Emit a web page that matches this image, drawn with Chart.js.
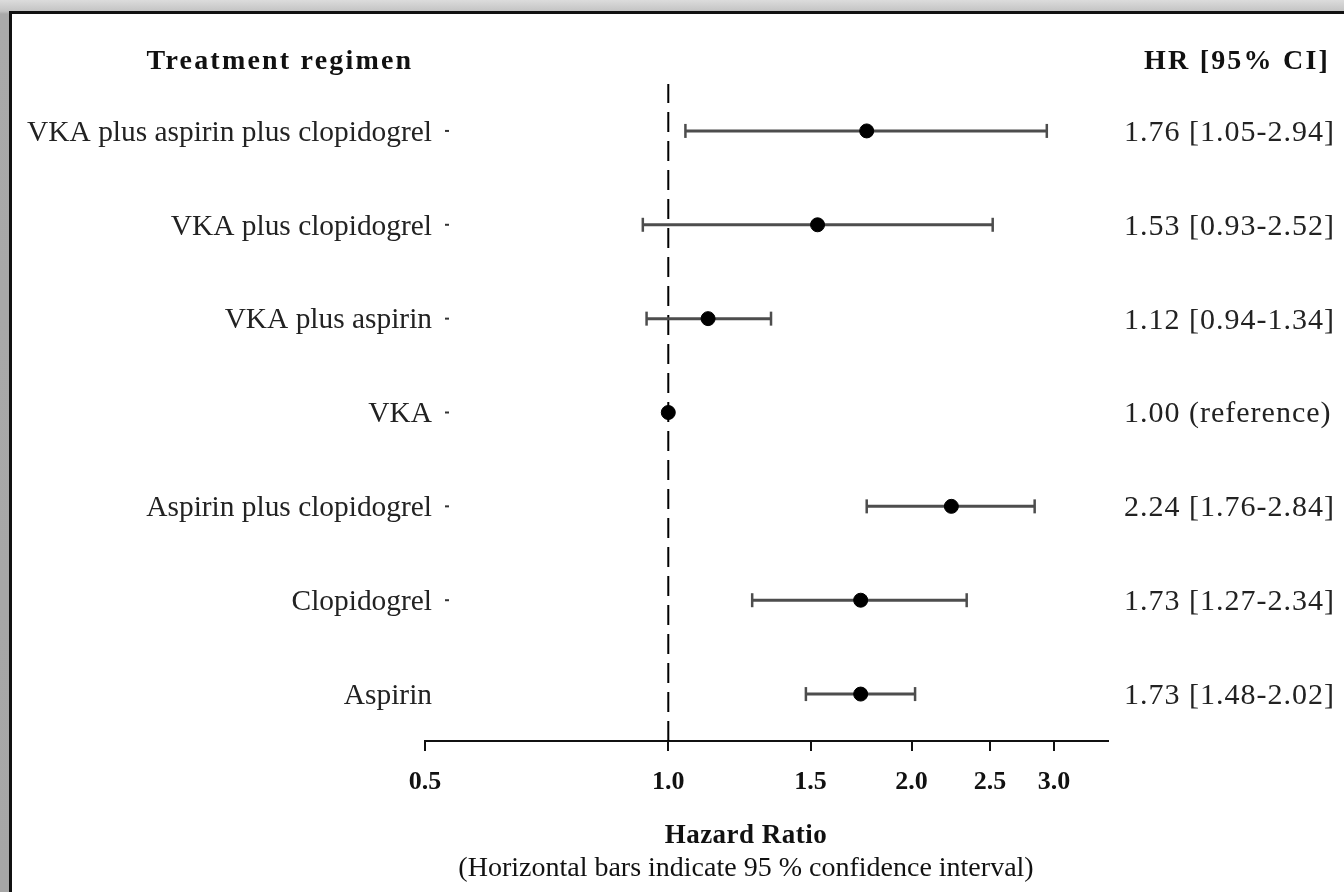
<!DOCTYPE html>
<html>
<head>
<meta charset="utf-8">
<script src="https://cdn.jsdelivr.net/npm/chart.js@4.4.1/dist/chart.umd.min.js"></script>
<style>
  html, body { margin: 0; padding: 0; }
  body {
    width: 1344px; height: 892px; overflow: hidden; position: relative;
    background: linear-gradient(to bottom, #dcdcdc 0px, #c4c4c4 11px, #a9a9a9 14px, #a6a6a6 100%);
  }
  .frame {
    position: absolute; left: 9px; top: 11px; right: -20px; bottom: -20px;
    border-left: 3px solid #111; border-top: 3px solid #111; background: #fff;
  }
  canvas { position: absolute; left: 0; top: 0; }
</style>
</head>
<body>
<div class="frame"></div>
<canvas id="forest" width="1344" height="892"></canvas>
<script>
// Treatment regimens, listed top to bottom
const categories = [
  'VKA plus aspirin plus clopidogrel',
  'VKA plus clopidogrel',
  'VKA plus aspirin',
  'VKA',
  'Aspirin plus clopidogrel',
  'Clopidogrel',
  'Aspirin'
];
// Hazard ratios with 95% confidence limits (VKA is the reference group)
const hazardRatios = [1.76, 1.53, 1.12, 1.00, 2.24, 1.73, 1.73];
const ciLower      = [1.05, 0.93, 0.94, null, 1.76, 1.27, 1.48];
const ciUpper      = [2.94, 2.52, 1.34, null, 2.84, 2.34, 2.02];
const isReference  = [false, false, false, true, false, false, false];

// Hazard ratio axis
const xTickValues = [0.5, 1.0, 1.5, 2.0, 2.5, 3.0];
const xRange = [0.5, 3.5];
const nullEffect = 1.0;

const SERIF = '"Liberation Serif", "Times New Roman", serif';
const n = categories.length;
const rowY = i => n - 1 - i;

function hrText(i) {
  if (isReference[i]) return hazardRatios[i].toFixed(2) + ' (reference)';
  return hazardRatios[i].toFixed(2) + ' [' + ciLower[i].toFixed(2) + '-' + ciUpper[i].toFixed(2) + ']';
}

const datasets = [];

// vertical dashed line at HR = 1
datasets.push({
  type: 'line',
  data: [{ x: nullEffect, y: -0.5 }, { x: nullEffect, y: n - 0.5 }],
  borderColor: '#000',
  borderWidth: 2,
  borderDash: [20, 9],
  pointRadius: 0,
  order: 3
});

// confidence interval whiskers with end caps
categories.forEach((c, i) => {
  if (ciLower[i] == null) return;
  datasets.push({
    type: 'line',
    data: [{ x: ciLower[i], y: rowY(i) }, { x: ciUpper[i], y: rowY(i) }],
    borderColor: '#4d4d4d',
    borderWidth: 3,
    pointStyle: 'line',
    rotation: 90,
    pointRadius: 7,
    pointBorderWidth: 2.5,
    pointBorderColor: '#4d4d4d',
    order: 2
  });
});

// point estimates
datasets.push({
  type: 'scatter',
  data: hazardRatios.map((v, i) => ({ x: v, y: rowY(i) })),
  backgroundColor: '#000',
  borderColor: '#000',
  pointRadius: 7,
  order: 1
});

// row labels, column headings, HR column and axis captions
const forestText = {
  id: 'forestText',
  afterDraw(chart) {
    const ctx = chart.ctx;
    const ys = chart.scales.y;
    const area = chart.chartArea;
    ctx.save();
    ctx.textBaseline = 'middle';

    // column headings
    ctx.fillStyle = '#111';
    ctx.font = 'bold 28px ' + SERIF;
    ctx.letterSpacing = '2.2px';
    ctx.textAlign = 'center';
    ctx.fillText('Treatment regimen', 280, 62);
    ctx.textAlign = 'right';
    ctx.fillText('HR [95% CI]', 1330, 62);

    categories.forEach((c, i) => {
      const y = ys.getPixelForValue(rowY(i)) + 2;
      ctx.font = '29.4px ' + SERIF;
      ctx.fillStyle = '#222';
      ctx.letterSpacing = '0px';
      ctx.textAlign = 'right';
      ctx.fillText(c, area.left + 7, y);
      if (i < n - 1) {
        ctx.strokeStyle = '#333';
        ctx.lineWidth = 2;
        ctx.beginPath();
        ctx.moveTo(area.left + 20, y - 2);
        ctx.lineTo(area.left + 24, y - 2);
        ctx.stroke();
      }
      ctx.font = '30px ' + SERIF;
      ctx.letterSpacing = '1px';
      ctx.textAlign = 'left';
      ctx.fillText(hrText(i), 1124, y);
    });

    // axis captions
    ctx.fillStyle = '#111';
    ctx.textAlign = 'center';
    ctx.letterSpacing = '0.5px';
    ctx.font = 'bold 27px ' + SERIF;
    ctx.fillText('Hazard Ratio', 746, 836);
    ctx.letterSpacing = '0px';
    ctx.font = '28px ' + SERIF;
    ctx.fillText('(Horizontal bars indicate 95 % confidence interval)', 746, 869);
    ctx.restore();
  }
};

new Chart(document.getElementById('forest'), {
  type: 'scatter',
  data: { datasets },
  options: {
    responsive: false,
    animation: false,
    events: [],
    layout: { padding: { left: 425, right: 236, top: 84, bottom: 0 } },
    plugins: { legend: { display: false }, tooltip: { enabled: false } },
    scales: {
      x: {
        type: 'logarithmic',
        position: 'bottom',
        min: xRange[0],
        max: xRange[1],
        afterBuildTicks: s => { s.ticks = xTickValues.map(v => ({ value: v })); },
        afterFit: s => { s.height = 892 - 741; },
        ticks: {
          autoSkip: false,
          maxRotation: 0,
          padding: 16,
          color: '#111',
          font: { family: SERIF, size: 26, weight: 'bold' },
          callback: v => Number(v).toFixed(1)
        },
        grid: {
          drawOnChartArea: false,
          drawTicks: true,
          tickLength: 10,
          color: '#111',
          lineWidth: 2
        },
        border: { display: true, color: '#111', width: 2 }
      },
      y: {
        type: 'linear',
        min: -0.5,
        max: n - 0.5,
        display: false
      }
    }
  },
  plugins: [forestText]
});
</script>
</body>
</html>
